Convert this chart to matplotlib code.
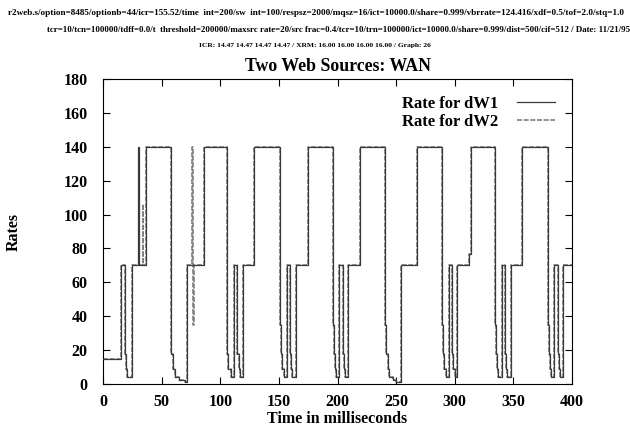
import matplotlib
matplotlib.use("Agg")
import matplotlib.pyplot as plt

# rate steps: time (ms) where a new rate starts, and that rate
t_dw1 = [0, 15.6, 19.0, 19.6, 20.3, 24.4, 29.9, 30.3, 36.7, 57.7, 59.3, 61.0,
         64.5, 70.0, 71.4, 86.4, 105.5, 106.1, 106.9, 108.9, 111.7, 114.6,
         115.6, 116.8, 119.1, 129.0, 151.0, 151.6, 152.6, 154.4, 156.7, 159.5,
         160.3, 161.4, 164.3, 174.6, 195.9, 197.0, 197.9, 198.7, 201.5, 204.4,
         205.2, 206.4, 208.7, 219.2, 240.5, 241.4, 242.8, 244.2, 247.1, 249.9,
         253.9, 268.0, 289.4, 290.0, 290.8, 292.3, 295.4, 297.9, 298.7, 299.8,
         302.3, 312.4, 313.6, 334.3, 335.0, 336.0, 337.2, 340.0, 342.8, 343.5,
         344.4, 347.7, 357.1, 379.2, 380.0, 381.0, 382.0, 384.6, 387.8, 388.6,
         389.9, 392.6, 400]
r_dw1 = [14.47, 70, 17.5, 8.75, 4.4, 70, 140, 70, 140, 17.5, 8.75, 4.4,
         2.2, 1.1, 70, 140, 35, 17.5, 8.75, 4.4, 70, 17.5,
         8.75, 4.4, 70, 140, 35, 17.5, 8.75, 4.4, 70, 17.5,
         8.75, 4.4, 70, 140, 35, 17.5, 8.75, 4.4, 70, 17.5,
         8.75, 4.4, 70, 140, 35, 17.5, 8.75, 4.4, 2.2, 1.1,
         70, 140, 35, 17.5, 8.75, 4.4, 70, 17.5, 8.75, 4.4,
         70, 77, 140, 35, 17.5, 8.75, 4.4, 70, 17.5, 8.75,
         4.4, 70, 140, 35, 17.5, 8.75, 4.4, 70, 17.5, 8.75,
         4.4, 70, 70]

t_dw2 = [0, 15.6, 19.0, 19.6, 20.3, 24.4, 34.0, 34.5, 36.7, 57.7, 59.3, 61.0,
         64.5, 70.0, 71.4, 76.3, 76.9, 77.3, 86.4, 105.5, 106.1, 106.9, 108.9,
         111.7, 114.6, 115.6, 116.8, 119.1, 129.0, 151.0, 151.6, 152.6, 154.4,
         156.7, 159.5, 160.3, 161.4, 164.3, 174.6, 195.9, 197.0, 197.9, 198.7,
         201.5, 204.4, 205.2, 206.4, 208.7, 219.2, 240.5, 241.4, 242.8, 244.2,
         247.1, 249.9, 253.9, 268.0, 289.4, 290.0, 290.8, 292.3, 295.4, 297.9,
         298.7, 299.8, 302.3, 312.4, 313.6, 334.3, 335.0, 336.0, 337.2, 340.0,
         342.8, 343.5, 344.4, 347.7, 357.1, 379.2, 380.0, 381.0, 382.0, 384.6,
         387.8, 388.6, 389.9, 392.6, 400]
r_dw2 = [14.47, 70, 17.5, 8.75, 4.4, 70, 106, 70, 140, 17.5, 8.75, 4.4,
         2.2, 1.1, 70, 140, 35, 70, 140, 35, 17.5, 8.75, 4.4,
         70, 17.5, 8.75, 4.4, 70, 140, 35, 17.5, 8.75, 4.4,
         70, 17.5, 8.75, 4.4, 70, 140, 35, 17.5, 8.75, 4.4,
         70, 17.5, 8.75, 4.4, 70, 140, 35, 17.5, 8.75, 4.4,
         2.2, 1.1, 70, 140, 35, 17.5, 8.75, 4.4, 70, 17.5,
         8.75, 4.4, 70, 77, 140, 35, 17.5, 8.75, 4.4, 70,
         17.5, 8.75, 4.4, 70, 140, 35, 17.5, 8.75, 4.4, 70,
         17.5, 8.75, 4.4, 70, 70]

x_ticks = [0, 50, 100, 150, 200, 250, 300, 350, 400]
y_ticks = [0, 20, 40, 60, 80, 100, 120, 140, 160, 180]

header = [
    "r2web.s/option=8485/optionb=44/icr=155.52/time  int=200/sw  int=100/respsz=2000/mqsz=16/ict=10000.0/share=0.999/vbrrate=124.416/xdf=0.5/tof=2.0/stq=1.0",
    "tcr=10/tcn=100000/tdff=0.0/t  threshold=200000/maxsrc rate=20/src frac=0.4/tcr=10/trn=100000/ict=10000.0/share=0.999/dist=500/cif=512 / Date: 11/21/95",
    "ICR: 14.47 14.47 14.47 14.47 / XRM: 16.00 16.00 16.00 16.00 / Graph: 26",
]

plt.rcParams["font.family"] = ["Liberation Serif", "DejaVu Serif"]
plt.rcParams["font.weight"] = "bold"

fig = plt.figure(figsize=(6.3, 4.32), dpi=100)
ax = fig.add_axes([0.1635, 0.1111, 0.7445, 0.706])

# dW2 goes underneath, dW1 on top: they overlap almost everywhere
ax.step(t_dw2, r_dw2, where="post", color="#808080", lw=1.2,
        linestyle=(0, (3, 1)), label="Rate for dW2", zorder=2)
ax.step(t_dw1, r_dw1, where="post", color="#3a3a3a", lw=0.9,
        label="Rate for dW1", zorder=3)

ax.set_xlim(0, 400)
ax.set_ylim(0, 180)
ax.set_xticks(x_ticks)
ax.set_yticks(y_ticks)
ax.tick_params(direction="in", length=5, top=True, right=True, labelsize=11.5)
ax.tick_params(axis="y", pad=11)
ax.tick_params(axis="x", pad=7)
for lab in ax.get_xticklabels() + ax.get_yticklabels():
    lab.set_fontweight("bold")

ax.set_title("Two Web Sources: WAN", fontsize=12.8, fontweight="bold", pad=6)
ax.set_xlabel("Time in milliseconds", fontsize=11.5, fontweight="bold", labelpad=1)
ax.set_ylabel("Rates", fontsize=11.5, fontweight="bold", labelpad=30)

# legend order: dW1 first
handles, labels = ax.get_legend_handles_labels()
ax.legend(handles[::-1], labels[::-1], loc="upper right", frameon=False,
          markerfirst=False, fontsize=12, handlelength=2.3,
          labelspacing=0.15, borderaxespad=0.6, handletextpad=1.1)

fig.text(0.501, 0.97, header[0], ha="center", va="center", fontsize=6.6)
fig.text(0.537, 0.931, header[1], ha="center", va="center", fontsize=6.4)
fig.text(0.5, 0.894, header[2], ha="center", va="center", fontsize=5.4)

fig.savefig("out.png", dpi=100)
